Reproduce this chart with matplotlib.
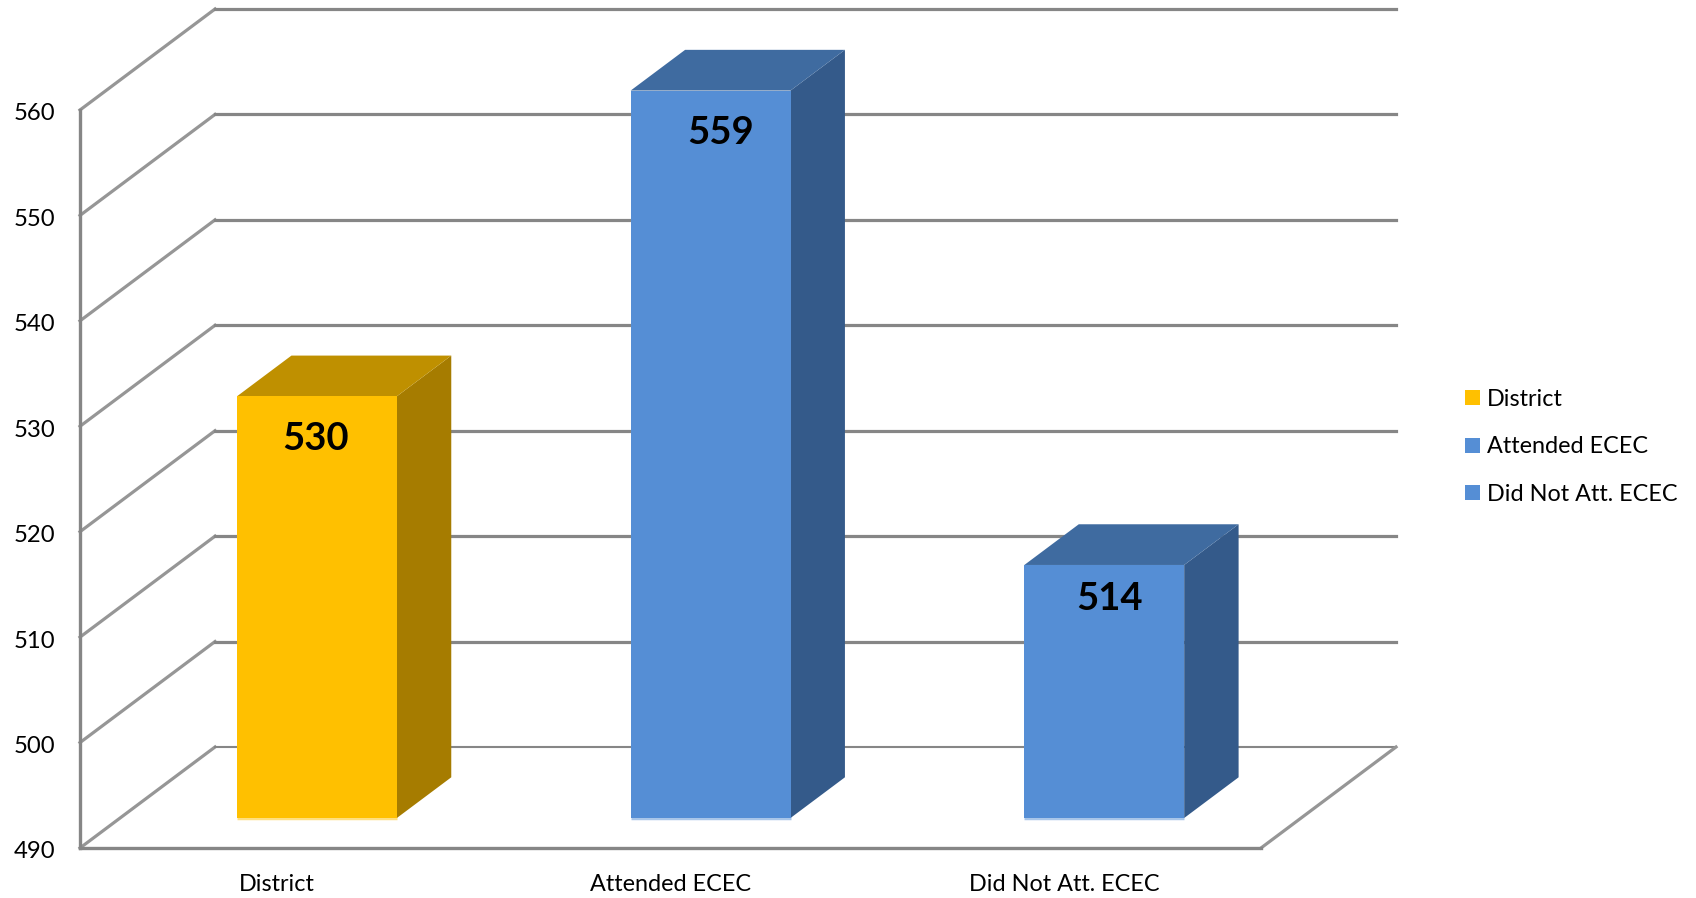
import matplotlib
matplotlib.use("Agg")
from matplotlib import pyplot as plt
from matplotlib.patches import Polygon, Patch
from matplotlib.transforms import ScaledTranslation

plt.rcParams["font.family"] = ["Lato", "DejaVu Sans"]

categories = ["District", "Attended ECEC", "Did Not Att. ECEC"]
values = [530, 559, 514]
y_ticks = [490, 500, 510, 520, 530, 540, 550, 560]
front_colors = ["#FFC000", "#558ED5", "#558ED5"]
top_colors = ["#BF9000", "#3F6BA0", "#3F6BA0"]
side_colors = ["#A67C00", "#345A8A", "#345A8A"]
label_shift = [(-1, -30.5), (7, -30.5), (4, -24.5)]  # points from the bar's top centre

# fake 3d: depth is a shear, in data units
depth_x = 0.343
depth_y = 9.58
bar_width = 0.406
bar_t0 = 0.297
bar_t1 = 0.70
grid_color = "#868686"
diag_color = "#969696"


def proj(x, v, t):
    return (x + depth_x * t, v + depth_y * t)


W, H = 1696, 898
fig = plt.figure(figsize=(W / 100, H / 100), dpi=100)
ax = fig.add_axes([80 / W, 1 - 848 / H, 1181 / W, 738 / H])
ax.set_xlim(0, len(categories))
ax.set_ylim(y_ticks[0], y_ticks[-1])

# walls
for v in y_ticks:
    lw = 1.5 if v == y_ticks[0] else 2.3
    a = proj(0, v, 0)
    b = proj(0, v, 1)
    c = proj(len(categories), v, 1)
    ax.plot([a[0], b[0]], [a[1], b[1]], color=diag_color, lw=2.3, clip_on=False, zorder=1)
    ax.plot([b[0], c[0]], [b[1], c[1]], color=grid_color, lw=lw, clip_on=False, zorder=1)
# right edge of the floor
a = proj(len(categories), y_ticks[0], 0)
b = proj(len(categories), y_ticks[0], 1)
ax.plot([a[0], b[0]], [a[1], b[1]], color=diag_color, lw=2.3, clip_on=False, zorder=1)

# bars
for i, val in enumerate(values):
    x0 = i + 0.5 - bar_width / 2
    x1 = i + 0.5 + bar_width / 2
    base = y_ticks[0]
    h = val - base
    f_bl = proj(x0, base, bar_t0)
    f_br = proj(x1, base, bar_t0)
    f_tr = (f_br[0], f_br[1] + h)
    f_tl = (f_bl[0], f_bl[1] + h)
    b_br = proj(x1, base, bar_t1)
    b_tr = (b_br[0], b_br[1] + h)
    b_tl = proj(x0, base + h, bar_t1)
    # pale lip under the front face
    ax.plot([f_bl[0], f_br[0]], [f_bl[1], f_br[1]], color=front_colors[i], alpha=0.5, lw=2.5,
            solid_capstyle="butt", clip_on=False, zorder=2)
    ax.add_patch(Polygon([f_br, b_br, b_tr, f_tr], facecolor=side_colors[i], edgecolor="none",
                         clip_on=False, zorder=3))
    ax.add_patch(Polygon([f_tl, f_tr, b_tr, b_tl], facecolor=top_colors[i], edgecolor="none",
                         clip_on=False, zorder=3))
    ax.add_patch(Polygon([f_bl, f_br, f_tr, f_tl], facecolor=front_colors[i], edgecolor="none",
                         clip_on=False, zorder=4))
    ax.annotate(str(val), (f_tl[0] + bar_width / 2, f_tl[1]), xytext=label_shift[i],
                textcoords="offset points", ha="center", va="center", annotation_clip=False,
                fontsize=27.5, fontweight="bold", color="black", zorder=5)

for s in ["top", "right"]:
    ax.spines[s].set_visible(False)
for s in ["left", "bottom"]:
    ax.spines[s].set_color(grid_color)
    ax.spines[s].set_linewidth(2.4)

ax.set_yticks(y_ticks)
ax.set_xticks([i + 0.5 for i in range(len(categories))])
ax.set_xticklabels(categories)
ax.tick_params(axis="y", length=0, pad=18, labelsize=17.2)
ax.tick_params(axis="x", length=0, pad=19, labelsize=16.8)
shift = ScaledTranslation(0, -2 / 100, fig.dpi_scale_trans)
for lbl in ax.get_yticklabels():
    lbl.set_transform(lbl.get_transform() + shift)

handles = [Patch(facecolor=c, edgecolor="none") for c in front_colors]
fig.legend(handles, categories, loc="upper left", bbox_to_anchor=(1465 / W, 1 - 389 / H),
           frameon=False, fontsize=16.8, handlelength=0.63, handleheight=0.63,
           handletextpad=0.3, labelspacing=1.13, borderpad=0, borderaxespad=0)

fig.savefig("out.png", dpi=100, facecolor="white")
